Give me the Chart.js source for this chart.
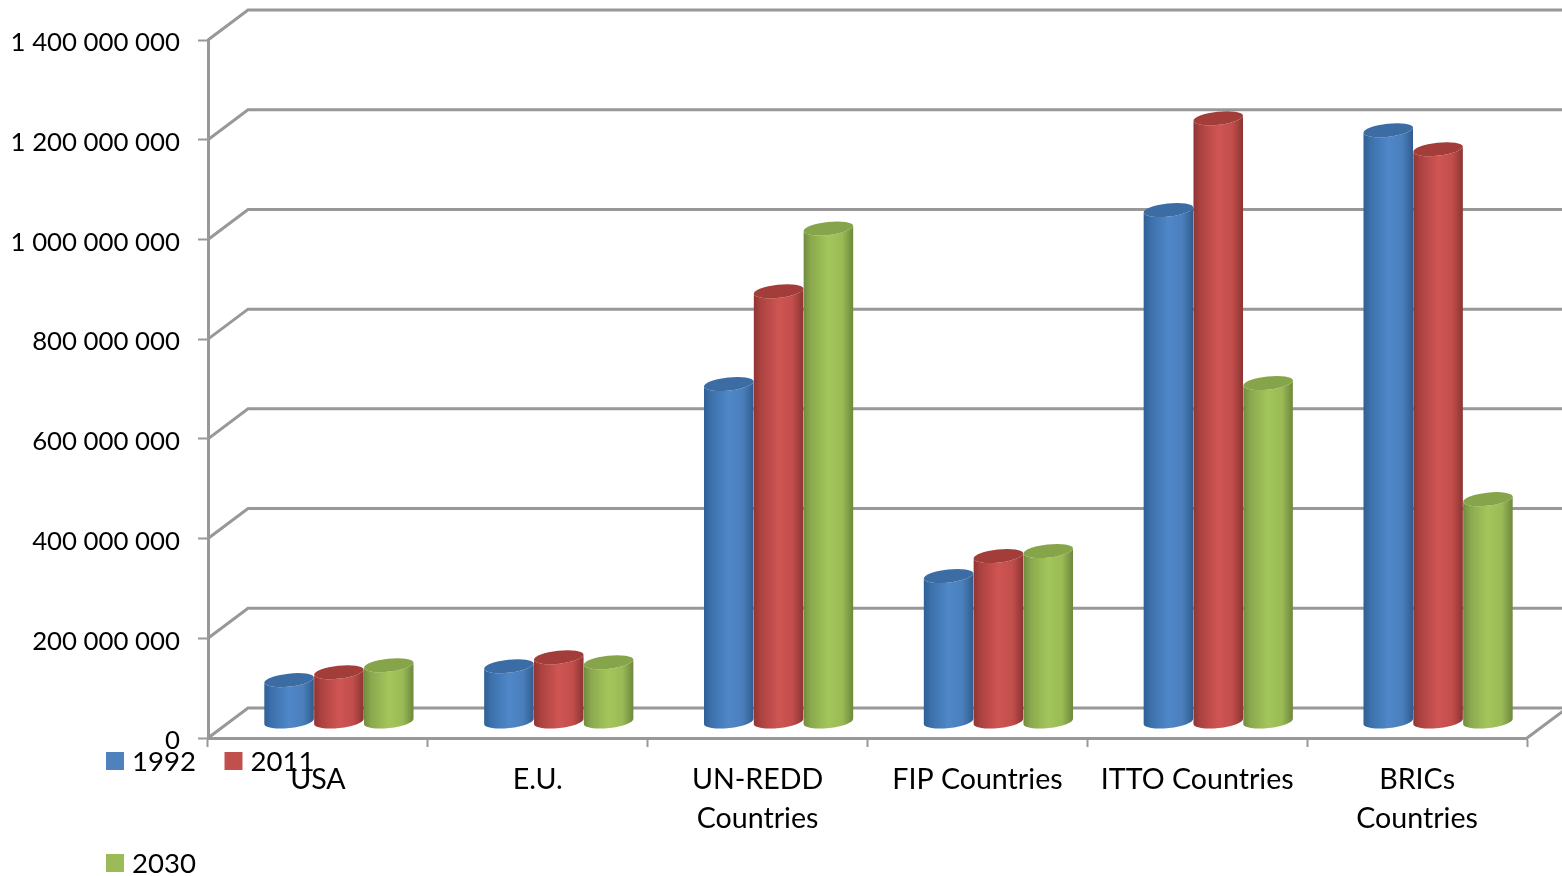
<!DOCTYPE html>
<html>
<head>
<meta charset="utf-8">
<style>
  html, body { margin: 0; padding: 0; background: #fff; }
  #wrap { width: 1562px; height: 876px; position: relative; overflow: hidden; }
</style>
<script src="https://cdn.jsdelivr.net/npm/chart.js@4/dist/chart.umd.min.js"></script>
</head>
<body>
<div id="wrap"><canvas id="chart" width="1562" height="876"></canvas></div>
<script>
const categories = ["USA", "E.U.", ["UN-REDD", "Countries"], "FIP Countries", "ITTO Countries", ["BRICs", "Countries"]];
const series1992 = [84000000, 112000000, 678000000, 293000000, 1027000000, 1187000000];
const series2011 = [100000000, 130000000, 864000000, 333000000, 1211000000, 1149000000];
const series2030 = [114000000, 120000000, 990000000, 343000000, 680000000, 447000000];
const seriesNames = ["1992", "2011", "2030"];
const seriesColors = ["#4F81BD", "#C0504D", "#9BBB59"];

const FONT = "Lato, Carlito, sans-serif";
const GRID = "#989898";
const DEPTH_X = 40, DEPTH_Y = 30;       // offset of the back wall from the front plane
const BAR_DX = 21, BAR_DY = 16;         // cylinders stand halfway into the floor
const CAP_RY = 6.5, CAP_TILT = -0.11;

// Side shading and cap tone for each series
const shades = [
  { stops: ["#2f5f94", "#3b70aa", "#4f87c8", "#4a7fbc", "#305c8e"], cap: "#3c6ca4" },
  { stops: ["#8e3533", "#ab4240", "#cf5553", "#c24e4b", "#8b3432"], cap: "#a33d3a" },
  { stops: ["#708a3e", "#8aa84d", "#a3c65b", "#9aba55", "#6d873c"], cap: "#86a44a" }
];

function spaced(value) {
  return String(value).replace(/\B(?=(\d{3})+(?!\d))/g, " ");
}

function line(ctx, pts) {
  ctx.beginPath();
  pts.forEach((p, i) => i ? ctx.lineTo(p[0], p[1]) : ctx.moveTo(p[0], p[1]));
  ctx.stroke();
}

function drawCylinder(ctx, bar, shade) {
  const cx = bar.x + BAR_DX, rx = bar.width / 2;
  const top = bar.y - BAR_DY, base = bar.base - BAR_DY;
  const grad = ctx.createLinearGradient(cx - rx, 0, cx + rx, 0);
  [0, 0.14, 0.5, 0.78, 1].forEach((s, i) => grad.addColorStop(s, shade.stops[i]));

  ctx.beginPath();
  ctx.ellipse(cx, top, rx, CAP_RY, CAP_TILT, Math.PI, 0, true);
  ctx.ellipse(cx, base, rx, CAP_RY, CAP_TILT, 0, Math.PI, false);
  ctx.closePath();
  ctx.fillStyle = grad;
  ctx.fill();

  ctx.beginPath();
  ctx.ellipse(cx, top, rx, CAP_RY, CAP_TILT, 0, Math.PI * 2);
  ctx.fillStyle = shade.cap;
  ctx.fill();
}

// Walls, floor and cylinders replace the flat bar rendering
const cylinderScene = {
  id: "cylinderScene",
  beforeDatasetsDraw(chart) {
    const { ctx, scales: { x, y } } = chart;
    const right = chart.width + 10;
    ctx.save();
    ctx.strokeStyle = GRID;
    ctx.lineWidth = 3;
    ctx.lineJoin = "miter";
    y.ticks.forEach(t => {
      const py = y.getPixelForValue(t.value);
      line(ctx, [[x.left, py], [x.left + DEPTH_X, py - DEPTH_Y], [right, py - DEPTH_Y]]);
    });
    const y0 = y.getPixelForValue(0);
    line(ctx, [[x.right, y0], [x.right + DEPTH_X, y0 - DEPTH_Y]]);
    chart.data.datasets.forEach((ds, i) => {
      chart.getDatasetMeta(i).data.forEach(bar => drawCylinder(ctx, bar, shades[i]));
    });
    ctx.restore();
    return false;
  },
  afterDraw(chart) {
    const { ctx } = chart;
    const slots = [[105, 761], [223.5, 761], [105, 863]];
    ctx.save();
    ctx.font = "27.6px " + FONT;
    ctx.textBaseline = "middle";
    chart.data.datasets.forEach((ds, i) => {
      const [lx, ly] = slots[i];
      ctx.fillStyle = ds.backgroundColor;
      ctx.fillRect(lx + 1, ly - 9, 18, 18);
      ctx.fillStyle = "#000";
      ctx.fillText(ds.label, lx + 27, ly + 1);
    });
    ctx.restore();
  }
};

new Chart(document.getElementById("chart"), {
  type: "bar",
  data: {
    labels: categories,
    datasets: [series1992, series2011, series2030].map((values, i) => ({
      label: seriesNames[i],
      data: values,
      backgroundColor: seriesColors[i],
      barPercentage: 1,
      categoryPercentage: 0.68
    }))
  },
  plugins: [cylinderScene],
  options: {
    responsive: false,
    animation: false,
    layout: { padding: { top: 40, right: 35, left: 0, bottom: 0 } },
    plugins: { legend: { display: false }, title: { display: false }, tooltip: { enabled: false } },
    scales: {
      x: {
        afterFit(s) { s.height = 138; },
        grid: { drawOnChartArea: false, tickLength: 9, tickColor: GRID, tickWidth: 2 },
        border: { color: GRID, width: 3 },
        ticks: {
          color: "#000",
          padding: 13,
          maxRotation: 0,
          autoSkip: false,
          font: { family: FONT, size: 28.6, lineHeight: 1.364 }
        }
      },
      y: {
        min: 0,
        max: 1400000000,
        afterFit(s) { s.width = 208; },
        grid: { drawOnChartArea: false, tickLength: 10, tickColor: GRID, tickWidth: 2 },
        border: { color: GRID, width: 3 },
        ticks: {
          stepSize: 200000000,
          color: "#000",
          padding: 18,
          labelOffset: 3,
          font: { family: FONT, size: 25.8 },
          callback: v => spaced(v)
        }
      }
    }
  }
});
</script>
</body>
</html>
